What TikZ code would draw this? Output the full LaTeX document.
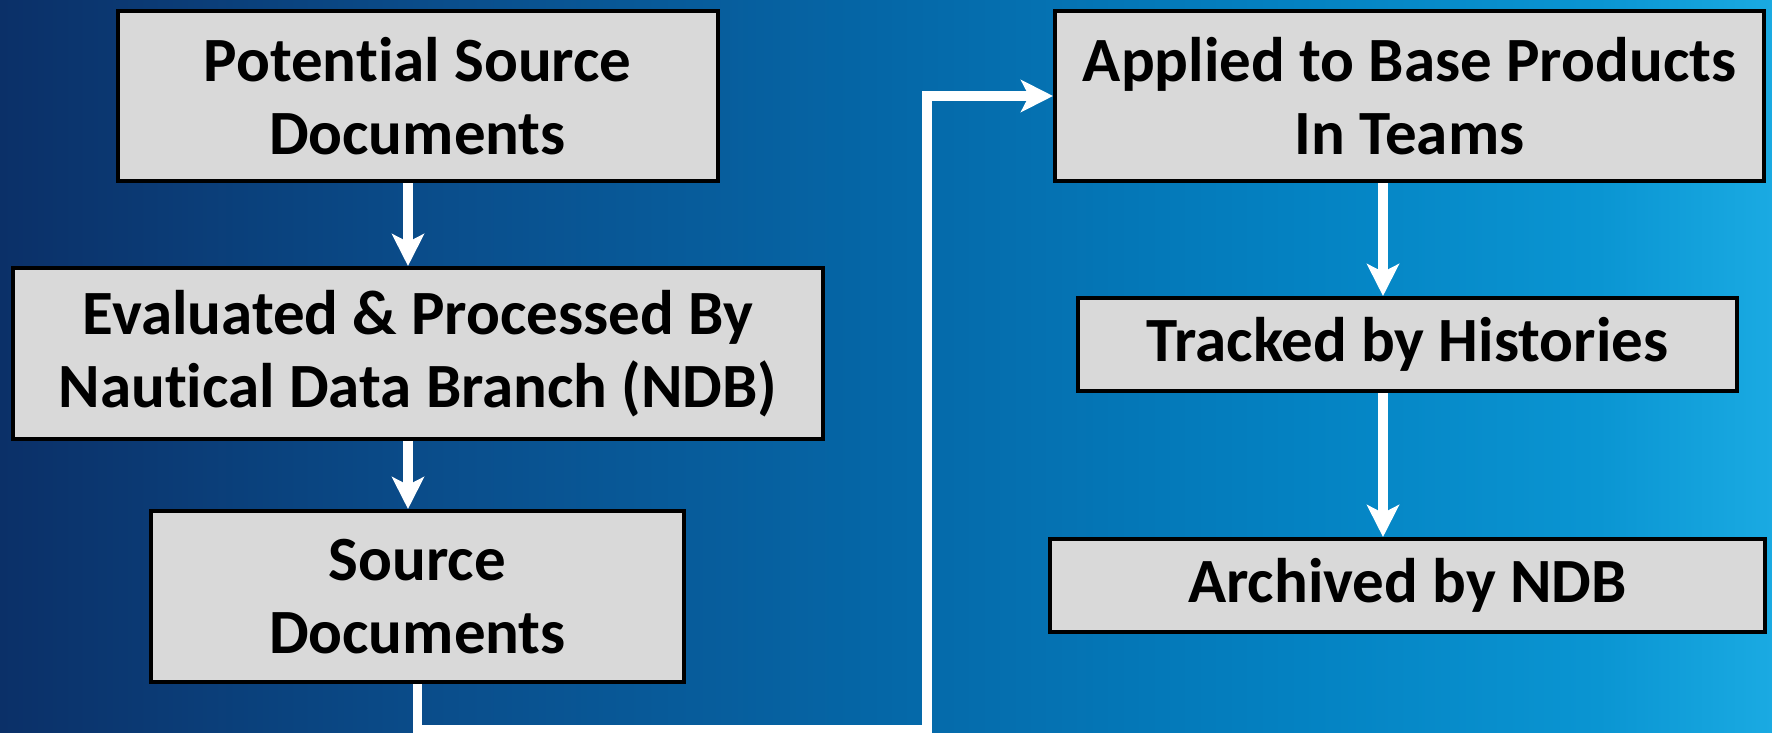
\documentclass[tikz,border=0pt]{standalone}
\usepackage{fontspec}
\setmainfont{Carlito}[Ligatures=NoCommon]
\usetikzlibrary{arrows.meta}
\definecolor{bgA}{HTML}{0B3068}
\definecolor{bgB}{HTML}{0A4E8C}
\definecolor{bgC}{HTML}{0566A6}
\definecolor{bgD}{HTML}{0482C2}
\definecolor{bgE}{HTML}{0A95D2}
\definecolor{bgF}{HTML}{1AAAE2}
\definecolor{boxgray}{HTML}{D9D9D9}
\pgfdeclarehorizontalshading{bgfade}{100bp}{color(0bp)=(bgA); color(25bp)=(bgA); color(37.7bp)=(bgB); color(49.5bp)=(bgC); color(61.7bp)=(bgD); color(70.1bp)=(bgE); color(75bp)=(bgF); color(100bp)=(bgF)}
\begin{document}
\begin{tikzpicture}[x=0.5pt,y=-0.5pt,
	box/.style={draw=black,fill=boxgray,line width=2pt,rectangle,align=center,inner sep=0pt,
		font=\fontsize{31.5}{36.5}\selectfont\bfseries},
	flow/.style={draw=white,line width=4.75pt,-{Stealth[length=16pt,width=16pt,inset=4pt]}}]
	\useasboundingbox (0,0) rectangle (1772,733);
	\shade[shading=bgfade] (0,0) rectangle (1772,733);
	% left column
	\node[box,minimum width=300pt,minimum height=85pt] (potential) at (417.5,96) {Potential Source\\Documents};
	\node[box,minimum width=405pt,minimum height=85.5pt] (evaluated) at (418,353.5) {Evaluated \& Processed By\\Nautical Data Branch (NDB)};
	\node[box,minimum width=266.5pt,minimum height=85.5pt] (sourcedocs) at (417.5,596.5) {Source\\Documents};
	% right column
	\node[box,minimum width=354.5pt,minimum height=85pt] (applied) at (1409.5,96) {Applied to Base Products\\In Teams};
	\node[box,minimum width=329.5pt,minimum height=46.5pt] (tracked) at (1407.5,344.5) {Tracked by Histories};
	\node[box,minimum width=357.5pt,minimum height=46.5pt] (archived) at (1407.5,585.5) {Archived by NDB};
	\coordinate (lcol) at (408,0);
	\coordinate (rcol) at (1383,0);
	\coordinate (turn) at (927,730);
	\draw[flow] (potential.south -| lcol) -- (evaluated.north -| lcol);
	\draw[flow] (evaluated.south -| lcol) -- (sourcedocs.north -| lcol);
	\draw[flow] (sourcedocs.south) |- (turn) |- (applied.west);
	\draw[flow] (applied.south -| rcol) -- (tracked.north -| rcol);
	\draw[flow] (tracked.south -| rcol) -- (archived.north -| rcol);
\end{tikzpicture}
\end{document}
